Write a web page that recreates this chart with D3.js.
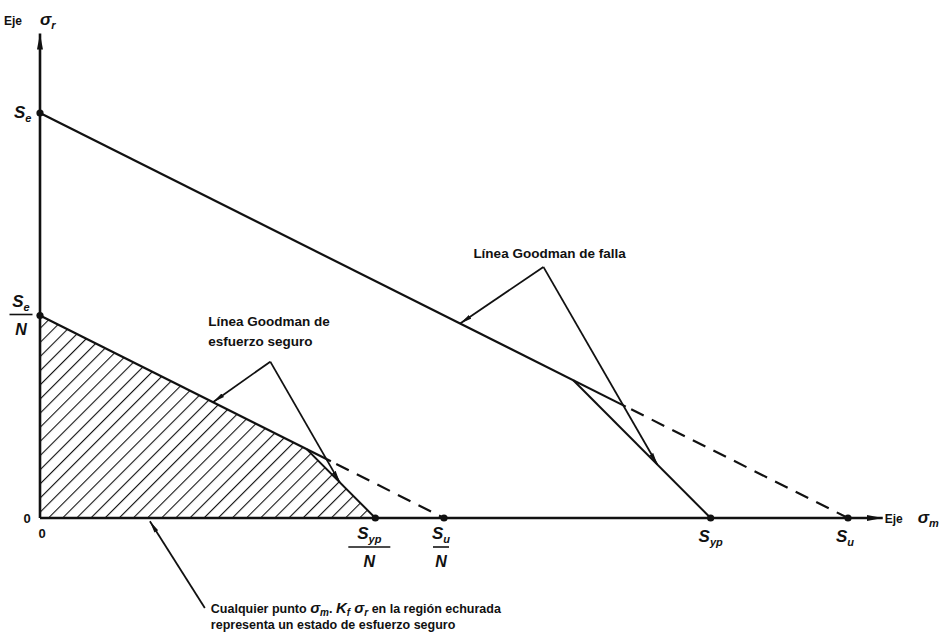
<!DOCTYPE html>
<html>
<head>
<meta charset="utf-8">
<script src="https://cdn.jsdelivr.net/npm/d3@7"></script>
<style>
  body { margin: 0; background: #fff; }
  text { font-family: "Liberation Sans", Arial, sans-serif; font-weight: bold; fill: #111; }
  .sym { font-style: italic; }
</style>
</head>
<body>
<div id="vis"></div>
<script>
// ---------- DATA (stress units) ----------
const strengthNames = ["Se", "Syp", "Su"];
const strengthValues = [50, 83, 100];   // Se (on σr axis), Syp, Su (on σm axis)
const safetyFactor = 2;                 // N
const dashStartFailure = 72.5;          // σm where failure Goodman line turns dashed
const dashStartSafe = 36;               // σm where safe Goodman line turns dashed

// annotation leaders: [apex σm, apex σr] and tips as σm on their lines
const failureApex = [62.3, 31];
const failureTips = [52, 76.4];         // on Goodman failure, on Syp line
const safeApex = [28.5, 19.3];
const safeTips = [21.4, 37.1];          // on safe Goodman, on Syp/N line
const regionArrow = [[20.4, -11.1], [13.6, -0.4]];

const Se = strengthValues[0], Syp = strengthValues[1], Su = strengthValues[2];

// ---------- FRAME ----------
const FRAME_WIDTH = 949;
const FRAME_HEIGHT = 643;

const x = d3.scaleLinear().domain([0, 100]).range([40, 848]);
const y = d3.scaleLinear().domain([0, 50]).range([518, 113]);

const svg = d3.select("#vis").append("svg")
  .attr("width", FRAME_WIDTH)
  .attr("height", FRAME_HEIGHT);

const defs = svg.append("defs");
defs.append("marker")
  .attr("id", "head")
  .attr("viewBox", "0 0 12 6")
  .attr("refX", 12).attr("refY", 3)
  .attr("markerWidth", 12).attr("markerHeight", 6)
  .attr("markerUnits", "userSpaceOnUse")
  .attr("orient", "auto")
  .append("path").attr("d", "M0,0.8 L12,3 L0,5.2 Z").attr("fill", "#111");
defs.append("marker")
  .attr("id", "axisHead")
  .attr("viewBox", "0 0 16 8")
  .attr("refX", 16).attr("refY", 4)
  .attr("markerWidth", 16).attr("markerHeight", 8)
  .attr("markerUnits", "userSpaceOnUse")
  .attr("orient", "auto")
  .append("path").attr("d", "M0,1 L16,4 L0,7 Z").attr("fill", "#111");

// hatch pattern for the safe region
const pat = defs.append("pattern")
  .attr("id", "hatch")
  .attr("patternUnits", "userSpaceOnUse")
  .attr("width", 10).attr("height", 10)
  .attr("patternTransform", "rotate(45)");
pat.append("line")
  .attr("x1", 0).attr("y1", 0).attr("x2", 0).attr("y2", 10)
  .attr("stroke", "#111").attr("stroke-width", 2.2);

const line = d3.line().x(d => x(d[0])).y(d => y(d[1]));
const goodman = (se, su) => sm => se * (1 - sm / su);
const gFail = goodman(Se, Su);
const gSafe = goodman(Se / safetyFactor, Su / safetyFactor);
const langer = syp => sm => syp - sm;
const lFail = langer(Syp);
const lSafe = langer(Syp / safetyFactor);

// intersection of Goodman and yield line
function cross(se, su, syp) {
  const sm = (syp - se) / (1 - se / su);
  return [sm, syp - sm];
}
const xFail = cross(Se, Su, Syp);
const xSafe = cross(Se / safetyFactor, Su / safetyFactor, Syp / safetyFactor);

// safe region
svg.append("path")
  .attr("d", line([[0, 0], [0, Se / safetyFactor], xSafe, [Syp / safetyFactor, 0]]) + "Z")
  .attr("fill", "url(#hatch)");

// axes
svg.append("line")
  .attr("x1", x(0)).attr("y1", y(0)).attr("x2", x(0)).attr("y2", y(59.8))
  .attr("stroke", "#111").attr("stroke-width", 2.6)
  .attr("marker-end", "url(#axisHead)");
svg.append("line")
  .attr("x1", x(0)).attr("y1", y(0)).attr("x2", x(104.3)).attr("y2", y(0))
  .attr("stroke", "#111").attr("stroke-width", 2.4)
  .attr("marker-end", "url(#axisHead)");

// Goodman lines (solid then dashed)
function drawGoodman(f, su, dashStart) {
  svg.append("path").attr("d", line([[0, f(0)], [dashStart, f(dashStart)]]))
    .attr("fill", "none").attr("stroke", "#111").attr("stroke-width", 2.2);
  svg.append("path").attr("d", line([[dashStart, f(dashStart)], [su, 0]]))
    .attr("fill", "none").attr("stroke", "#111").attr("stroke-width", 2.2)
    .attr("stroke-dasharray", "14,9").attr("stroke-dashoffset", -6);
}
drawGoodman(gFail, Su, dashStartFailure);
drawGoodman(gSafe, Su / safetyFactor, dashStartSafe);

// yield lines
[[xFail, Syp], [xSafe, Syp / safetyFactor]].forEach(([p, syp]) => {
  svg.append("path").attr("d", line([p, [syp, 0]]))
    .attr("fill", "none").attr("stroke", "#111").attr("stroke-width", 2);
});

// points
const pts = [[0, Se], [0, Se / safetyFactor], [Syp / safetyFactor, 0], [Su / safetyFactor, 0], [Syp, 0], [Su, 0]];
svg.selectAll("circle.pt").data(pts).enter().append("circle")
  .attr("class", "pt")
  .attr("cx", d => x(d[0])).attr("cy", d => y(d[1]))
  .attr("r", 3.6).attr("fill", "#111");

// annotation leaders
function leader(from, to, head) {
  svg.append("path").attr("d", line([from, to]))
    .attr("fill", "none").attr("stroke", "#111").attr("stroke-width", 1.8)
    .attr("marker-end", head ? "url(#head)" : null);
}
leader(failureApex, [failureTips[0], gFail(failureTips[0])], true);
leader(failureApex, [failureTips[1], lFail(failureTips[1])], true);
leader(safeApex, [safeTips[0], gSafe(safeTips[0])], true);
leader(safeApex, [safeTips[1], lSafe(safeTips[1])], true);
leader(regionArrow[0], regionArrow[1], true);

// ---------- TEXT ----------
function txt(px, py, size, anchor) {
  return svg.append("text").attr("x", px).attr("y", py)
    .attr("font-size", size).attr("text-anchor", anchor || "start");
}
function sym(px, py, main, sub, anchor) {
  const t = txt(px, py, 17, anchor).attr("class", "sym");
  t.append("tspan").text(main);
  t.append("tspan").attr("font-size", 11).attr("dy", 4).text(sub);
  return t;
}
function frac(cx, cy, main, sub, w) {
  sym(cx, cy - 8, main, sub, "middle");
  svg.append("line").attr("x1", cx - w / 2).attr("x2", cx + w / 2)
    .attr("y1", cy).attr("y2", cy).attr("stroke", "#111").attr("stroke-width", 1.6);
  txt(cx, cy + 20, 16, "middle").attr("class", "sym").text("N");
}

// axis titles
txt(4, 25, 12).text("Eje");
sym(40, 25, "σ", "r");
txt(x(104.3) + 2, y(0) + 5, 12).text("Eje");
sym(x(104.3) + 35, y(0) + 5, "σ", "m");

// zeros
txt(x(0) - 13, y(0) + 5, 13, "middle").text("0");
txt(x(0) + 2, y(0) + 20, 13, "middle").text("0");

// strength labels
sym(14, y(Se) + 5, "S", "e");
frac(21, y(Se / safetyFactor) - 1, "S", "e", 23);
frac(x(Syp / safetyFactor) - 6, y(0) + 29, "S", "yp", 42);
frac(x(Su / safetyFactor) - 3, y(0) + 29, "S", "u", 16);
sym(x(Syp), y(0) + 24, "S", "yp", "middle");
sym(x(Su) - 3, y(0) + 24, "S", "u", "middle");

// annotation texts
txt(x(failureApex[0]) - 70, y(failureApex[1]) - 9, 13.5).text("Línea Goodman de falla");
const t2 = txt(x(safeApex[0]) - 62, y(safeApex[1]) - 36, 13.5);
t2.append("tspan").text("Línea Goodman de");
t2.append("tspan").attr("x", x(safeApex[0]) - 62).attr("dy", 20).text("esfuerzo seguro");

const t3 = txt(x(regionArrow[0][0]) + 6, y(regionArrow[0][1]) + 5, 12.5);
t3.append("tspan").text("Cualquier punto ");
t3.append("tspan").attr("class", "sym").attr("font-size", 15).text("σ");
t3.append("tspan").attr("class", "sym").attr("font-size", 10).attr("dy", 3).text("m");
t3.append("tspan").attr("dy", -3).text(". ");
t3.append("tspan").attr("class", "sym").attr("font-size", 15).text("K");
t3.append("tspan").attr("class", "sym").attr("font-size", 10).attr("dy", 3).text("f");
t3.append("tspan").attr("class", "sym").attr("font-size", 15).attr("dy", -3).text(" σ");
t3.append("tspan").attr("class", "sym").attr("font-size", 10).attr("dy", 3).text("r");
t3.append("tspan").attr("dy", -3).text(" en la región echurada");
txt(x(regionArrow[0][0]) + 6, y(regionArrow[0][1]) + 21, 12.5)
  .text("representa un estado de esfuerzo seguro");
</script>
</body>
</html>
